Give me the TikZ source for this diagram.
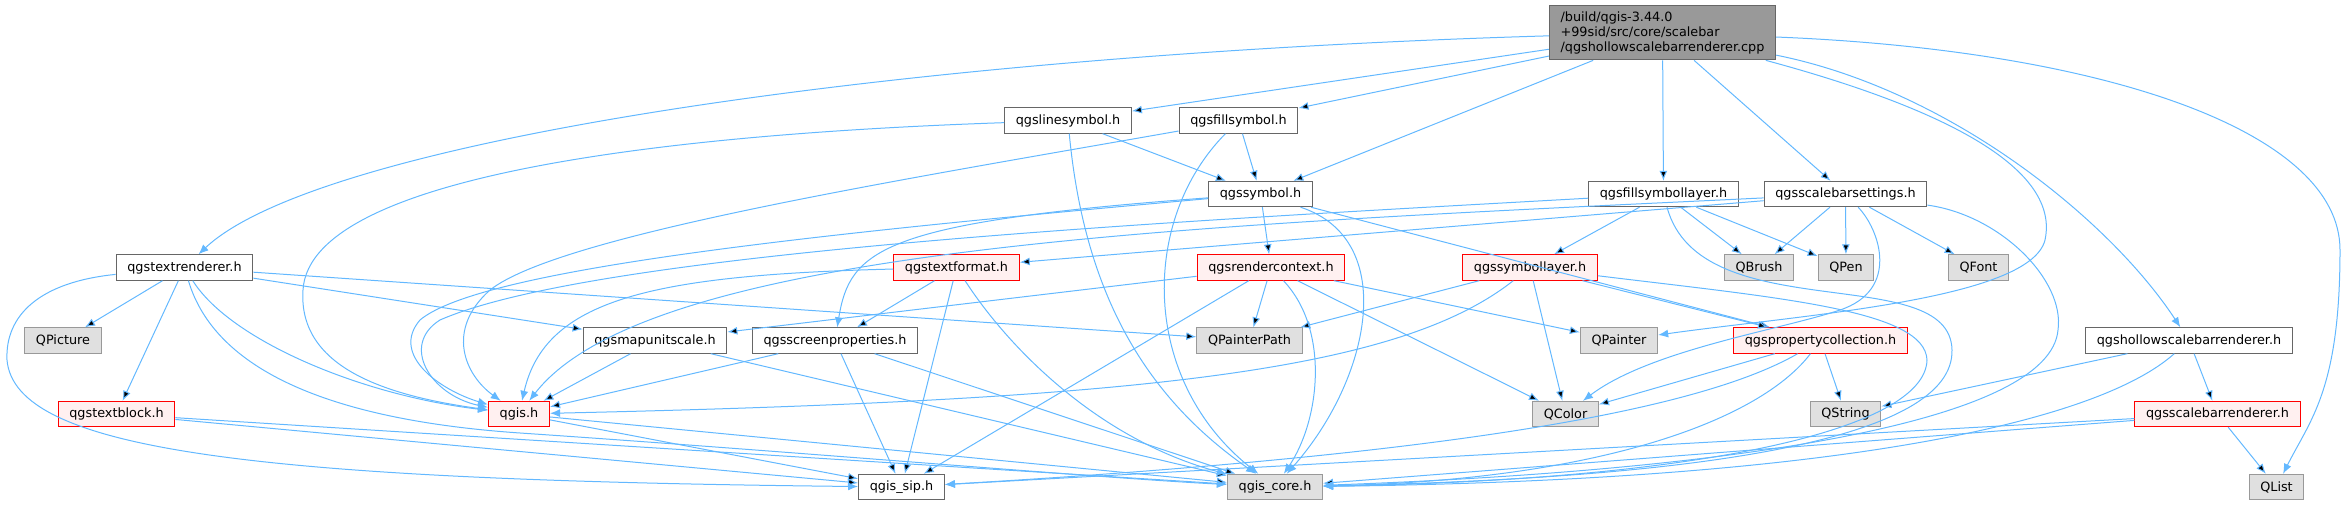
\documentclass[tikz,border=0pt]{standalone}
\usepackage{fontspec}
\setmainfont{DejaVu Sans}
\usepackage{tikz}
\usetikzlibrary{arrows.meta}
\definecolor{edgeblue}{HTML}{63B8FF}
\definecolor{fileborder}{HTML}{666666}
\definecolor{sysborder}{HTML}{999999}
\definecolor{sysfill}{HTML}{E0E0E0}
\definecolor{redfill}{HTML}{FFF0F0}
\definecolor{mainfill}{HTML}{999999}

\begin{document}
\begin{tikzpicture}[x=0.75pt, y=-0.75pt, >={Latex[length=7.5pt,width=6pt]},
  every node/.style={font=\fontsize{9.6}{11.25}\selectfont, inner xsep=8.4pt, inner ysep=2pt, minimum height=19pt, line width=0.8pt},
  file/.style={draw=fileborder, fill=white},
  sysfile/.style={draw=sysborder, fill=sysfill},
  redfile/.style={draw=red, fill=redfill},
  mainfile/.style={draw=fileborder, fill=mainfill, align=left, minimum height=41pt},
  link/.style={draw=edgeblue, line width=0.75pt}]
\useasboundingbox (0,0) rectangle (2346,505);

\node[mainfile] (cpp) at (1662.5,32.5) {/build/qgis-3.44.0\\+99sid/src/core/scalebar\\/qgshollowscalebarrenderer.cpp};
\node[file] (linesym) at (1068,120.5) {qgslinesymbol.h};
\node[file] (fillsym) at (1238.5,120.5) {qgsfillsymbol.h};
\node[file] (symbol) at (1260.5,194) {qgssymbol.h};
\node[file] (fillsymlayer) at (1663.5,194) {qgsfillsymbollayer.h};
\node[file] (sbsettings) at (1845.5,194) {qgsscalebarsettings.h};
\node[file] (textrend) at (184.5,267.5) {qgstextrenderer.h};
\node[redfile] (textfmt) at (956.5,267.5) {qgstextformat.h};
\node[redfile] (rendctx) at (1271,267.5) {qgsrendercontext.h};
\node[redfile] (symlayer) at (1530,267.5) {qgssymbollayer.h};
\node[sysfile] (qbrush) at (1759,267.5) {QBrush};
\node[sysfile] (qpen) at (1846,267.5) {QPen};
\node[sysfile] (qfont) at (1978.5,267.5) {QFont};
\node[sysfile] (qpicture) at (63,340.5) {QPicture};
\node[file] (mapunit) at (655,340.5) {qgsmapunitscale.h};
\node[file] (screenprop) at (835,340.5) {qgsscreenproperties.h};
\node[sysfile] (qpainterpath) at (1249.5,340.5) {QPainterPath};
\node[sysfile] (qpainter) at (1619,340.5) {QPainter};
\node[redfile] (propcoll) at (1820.5,340.5) {qgspropertycollection.h};
\node[file] (hollowh) at (2189,340.5) {qgshollowscalebarrenderer.h};
\node[redfile] (textblock) at (116.5,414) {qgstextblock.h};
\node[redfile] (qgis) at (519,414) {qgis.h};
\node[sysfile] (qcolor) at (1565.5,414) {QColor};
\node[sysfile] (qstring) at (1845.5,414) {QString};
\node[redfile] (sbrend) at (2217.5,414) {qgsscalebarrenderer.h};
\node[file] (qgissip) at (901.5,487) {qgis\_sip.h};
\node[sysfile] (qgiscore) at (1275,487) {qgis\_core.h};
\node[sysfile] (qlist) at (2276.5,487) {QList};

\draw[link]
	(cpp) edge[->] (linesym)
	(cpp) edge[->] (fillsym)
	(cpp) edge[->] (symbol)
	(cpp) edge[->] (fillsymlayer)
	(cpp) edge[->] (sbsettings)
	(linesym) edge[->] (symbol)
	(fillsym) edge[->] (symbol)
	(symbol) edge[->] (rendctx)
	(symbol) edge[->] (propcoll)
	(fillsymlayer) edge[->] (symlayer)
	(fillsymlayer) edge[->] (qbrush)
	(fillsymlayer) edge[->] (qpen)
	(sbsettings) edge[->] (qbrush)
	(sbsettings) edge[->] (qpen)
	(sbsettings) edge[->] (qfont)
	(sbsettings) edge[->] (textfmt)
	(textrend) edge[->] (qpicture)
	(textrend) edge[->] (textblock)
	(textrend) edge[->] (mapunit)
	(textrend) edge[->] (qpainterpath)
	(textfmt) edge[->] (screenprop)
	(textfmt) edge[->] (qgissip)
	(rendctx) edge[->] (mapunit)
	(rendctx) edge[->] (qpainterpath)
	(rendctx) edge[->] (qgissip)
	(rendctx) edge[->] (qcolor)
	(rendctx) edge[->] (qpainter)
	(symlayer) edge[->] (qpainterpath)
	(symlayer) edge[->] (qcolor)
	(symlayer) edge[->] (propcoll)
	(mapunit) edge[->] (qgis)
	(mapunit) edge[->] (qgiscore)
	(screenprop) edge[->] (qgis)
	(screenprop) edge[->] (qgissip)
	(screenprop) edge[->] (qgiscore)
	(textblock) edge[->] (qgissip)
	(textblock) edge[->] (qgiscore)
	(qgis) edge[->] (qgissip)
	(qgis) edge[->] (qgiscore)
	(propcoll) edge[->] (qcolor)
	(propcoll) edge[->] (qstring)
	(hollowh) edge[->] (qstring)
	(hollowh) edge[->] (sbrend)
	(sbrend) edge[->] (qlist)
	(sbrend) edge[->] (qgiscore)
	(sbrend) edge[->] (qgissip)
;

\draw[link,->] (cpp) .. controls (900,55) and (320,140) .. (textrend);
\draw[link,->] (cpp) .. controls (1950,90) and (2110,220) .. (hollowh);
\draw[link,->] (cpp) .. controls (2100,50) and (2340,130) .. (2340,250) .. controls (2340,390) and (2310,420) .. (qlist);
\draw[link,->] (cpp) .. controls (1950,110) and (2060,170) .. (2045,240) .. controls (2030,300) and (1800,315) .. (qpainter);
\draw[link,->] (linesym) .. controls (700,133) and (310,170) .. (303,290) .. controls (298,365) and (380,395) .. (qgis);
\draw[link,->] (linesym) .. controls (1085,300) and (1150,400) .. (qgiscore);
\draw[link,->] (fillsym) .. controls (900,180) and (560,235) .. (490,290) .. controls (445,330) and (465,375) .. (qgis);
\draw[link,->] (fillsym) .. controls (1140,220) and (1140,380) .. (qgiscore);
\draw[link,->] (symbol) .. controls (1400,240) and (1370,380) .. (qgiscore);
\draw[link,->] (symbol) .. controls (800,235) and (480,270) .. (420,320) .. controls (390,355) and (440,390) .. (qgis);
\draw[link,->] (symbol) .. controls (880,222) and (850,250) .. (screenprop);
\draw[link,->] (fillsymlayer) .. controls (1200,220) and (600,250) .. (440,320) .. controls (400,345) and (430,395) .. (qgis);
\draw[link,->] (fillsymlayer) .. controls (1700,330) and (1950,260) .. (1952,350) .. controls (1954,440) and (1700,478) .. (qgiscore);
\draw[link,->] (sbsettings) .. controls (1200,225) and (650,245) .. (qgis);
\draw[link,->] (sbsettings) .. controls (2000,215) and (2065,280) .. (2058,330) .. controls (2050,420) and (1750,470) .. (qgiscore);
\draw[link,->] (sbsettings) .. controls (1880,230) and (1900,290) .. (1840,310) .. controls (1780,330) and (1650,350) .. (qcolor);
\draw[link,->] (textrend) .. controls (230,340) and (360,395) .. (qgis);
\draw[link,->] (textrend) .. controls (215,370) and (330,420) .. (520,433) .. controls (800,452) and (1100,478) .. (qgiscore);
\draw[link,->] (textrend) .. controls (40,282) and (5,315) .. (7,360) .. controls (15,450) and (250,480) .. (qgissip);
\draw[link,->] (textfmt) .. controls (650,275) and (545,300) .. (qgis);
\draw[link,->] (textfmt) .. controls (1010,350) and (1100,440) .. (qgiscore);
\draw[link,->] (rendctx) .. controls (1330,330) and (1320,420) .. (qgiscore);
\draw[link,->] (symlayer) .. controls (1400,370) and (1150,400) .. (qgis);
\draw[link,->] (symlayer) .. controls (1780,298) and (1925,310) .. (1927,360) .. controls (1925,430) and (1700,480) .. (qgiscore);
\draw[link,->] (propcoll) .. controls (1700,410) and (1450,455) .. (qgissip);
\draw[link,->] (propcoll) .. controls (1760,420) and (1600,480) .. (qgiscore);
\draw[link,->] (hollowh) .. controls (2100,420) and (1850,480) .. (qgiscore);
\end{tikzpicture}
\end{document}
